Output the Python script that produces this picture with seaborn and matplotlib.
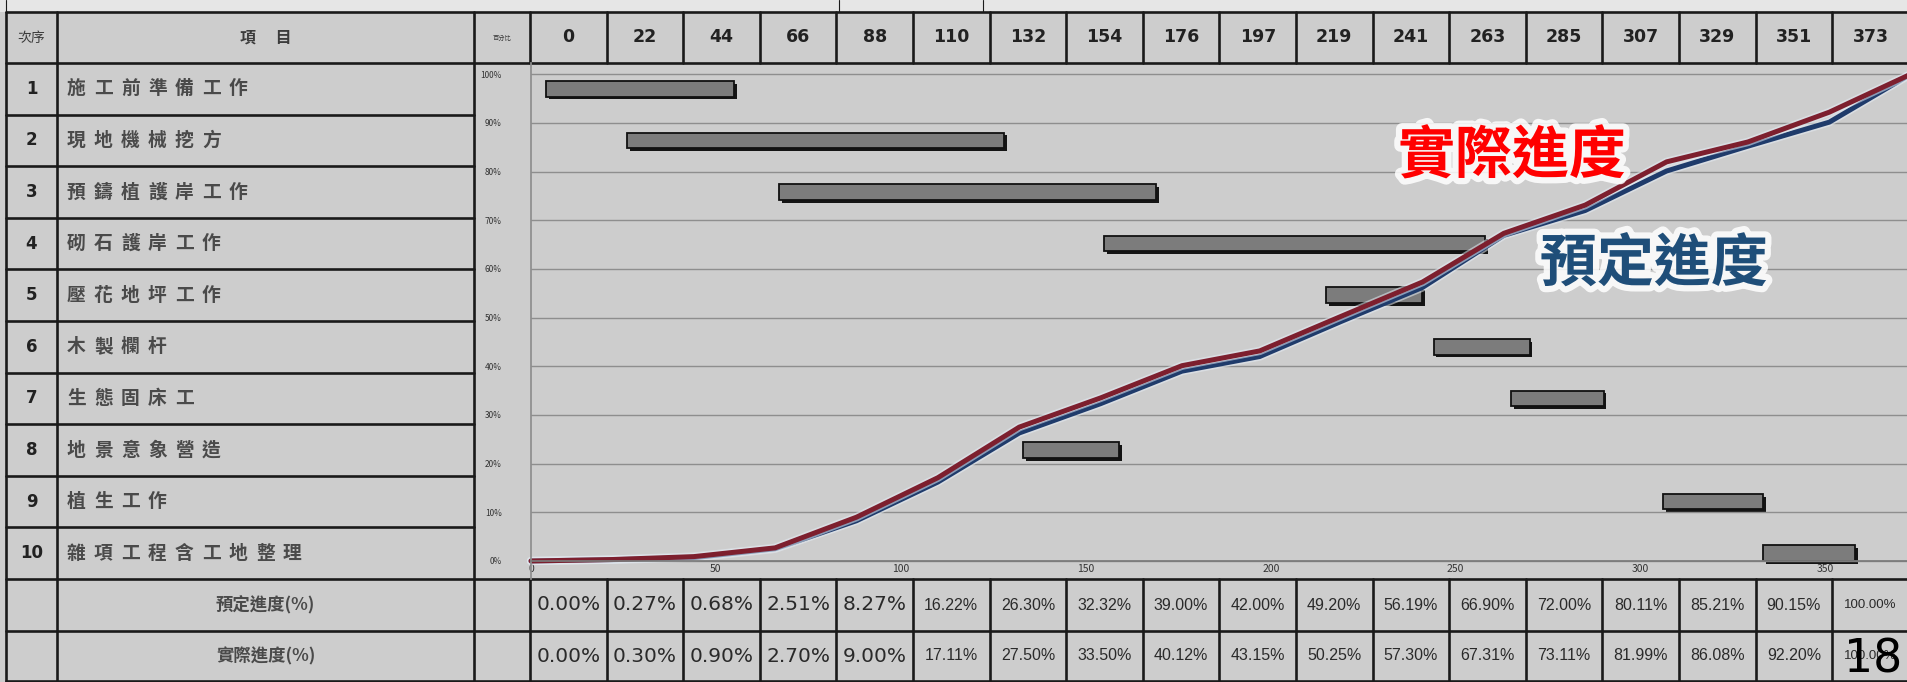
import matplotlib
matplotlib.use("Agg")
import matplotlib.pyplot as plt
import matplotlib.patheffects as pe
import seaborn as sns
import pandas as pd

# progress checkpoints (days) and cumulative progress (%)
days = [0, 22, 44, 66, 88, 110, 132, 154, 176, 197, 219, 241, 263, 285, 307, 329, 351, 373]
planned = [0.00, 0.27, 0.68, 2.51, 8.27, 16.22, 26.30, 32.32, 39.00, 42.00,
           49.20, 56.19, 66.90, 72.00, 80.11, 85.21, 90.15, 100.00]
actual = [0.00, 0.30, 0.90, 2.70, 9.00, 17.11, 27.50, 33.50, 40.12, 43.15,
          50.25, 57.30, 67.31, 73.11, 81.99, 86.08, 92.20, 100.00]

# work items and their schedule (days)
tasks = ["施工前準備工作", "現地機械挖方", "預鑄植護岸工作", "砌石護岸工作", "壓花地坪工作",
         "木製欄杆", "生態固床工", "地景意象營造", "植生工作", "雜項工程含工地整理"]
task_start = [4, 26, 67, 155, 215, 244, 265, 133, 306, 333]
task_end = [55, 128, 169, 258, 241, 270, 290, 159, 333, 358]

sns.set_theme(style="white")
plt.rcParams["font.family"] = ["Noto Sans CJK TC", "DejaVu Sans"]

BG = "#cdcdcd"
W, H = 1907, 682
fig = plt.figure(figsize=(W / 100, H / 100), dpi=100, facecolor=BG)

# ---- table frame (pixel coordinates) ----
tab = fig.add_axes([0, 0, 1, 1])
tab.set_xlim(0, W)
tab.set_ylim(H, 0)
tab.axis("off")
tab.patch.set_alpha(0)

x_left, x_id, x_item, x_pct = 6, 57, 474, 530
colw = 76.6
y_top, y_head, rowh = 12, 63, 51.6
y_rows = y_head + 10 * rowh
y_plan = 631
y_bot = 681
lc = "#1a1a1a"
lw = 1.9

tab.axhspan(0, y_top, color="#e6e6e6", lw=0)
for xx in [x_left, 839, 983]:
    tab.plot([xx, xx], [0, y_top], color=lc, lw=0.8)

for xx in [x_left, x_id, x_item]:
    tab.plot([xx, xx], [y_top, y_bot], color=lc, lw=lw)
col_edges = [x_pct + k * colw for k in range(len(days))]
for xx in col_edges:
    tab.plot([xx, xx], [y_top, y_head], color=lc, lw=lw)
    tab.plot([xx, xx], [y_rows, y_bot], color=lc, lw=lw)
for yy in [y_top, y_head, y_rows, y_plan, y_bot]:
    tab.plot([x_left, W], [yy, yy], color=lc, lw=lw)
for k in range(1, 10):
    yy = y_head + k * rowh
    tab.plot([x_left, x_item], [yy, yy], color=lc, lw=lw)

txt = "#3c3c3c"
ymid = (y_top + y_head) / 2
tab.text((x_left + x_id) / 2, ymid, "次序", fontsize=10, color=txt, ha="center", va="center")
tab.text((x_id + x_item) / 2, ymid, "項 　目", fontsize=11.5, fontweight="bold", color=txt,
         ha="center", va="center")
tab.text((x_item + x_pct) / 2, ymid, "百分比", fontsize=4.5, color=txt, ha="center", va="center")
for i, d in enumerate(days):
    tab.text(col_edges[i] + colw / 2, ymid, str(d), fontsize=12.5, fontweight="bold",
             family=["DejaVu Sans"], color="#222222", ha="center", va="center")

pitch = 27
for i, name in enumerate(tasks):
    yc = y_head + (i + 0.5) * rowh
    tab.text((x_left + x_id) / 2, yc, str(i + 1), fontsize=12, fontweight="bold",
             family=["DejaVu Sans"], color="#222222", ha="center", va="center")
    for j, ch in enumerate(name):
        tab.text(x_id + 10 + j * pitch, yc, ch, fontsize=13.5, fontweight="bold",
                 color="#4a4a4a", ha="left", va="center")

y_p = (y_rows + y_plan) / 2
y_a = (y_plan + y_bot) / 2
tab.text((x_id + x_item) / 2, y_p, "預定進度(%)", fontsize=12.5, fontweight="bold",
         color="#4a4a4a", ha="center", va="center")
tab.text((x_id + x_item) / 2, y_a, "實際進度(%)", fontsize=12.5, fontweight="bold",
         color="#4a4a4a", ha="center", va="center")
for i in range(len(days)):
    if i < 5:
        fs, fam = 14.5, ["DejaVu Sans"]
    elif i < 17:
        fs, fam = 11.5, ["Liberation Sans", "DejaVu Sans"]
    else:
        fs, fam = 9.5, ["Liberation Sans", "DejaVu Sans"]
    cx = col_edges[i] + colw / 2
    for yy, vals in [(y_p, planned), (y_a, actual)]:
        tab.text(cx, yy, f"{vals[i]:.2f}%", fontsize=fs, color="#2a2a2a", family=fam,
                 ha="center", va="center")

# ---- gantt bars + progress curves ----
x0 = 531
rect = [x0 / W, (H - y_rows) / H, (W - x0) / W, (y_rows - y_head) / H]
gax = fig.add_axes(rect)
gax.patch.set_alpha(0)
ax = fig.add_axes(rect, sharex=gax)
ax.patch.set_alpha(0)

ax.set_xlim(0, 372)
ax.set_ylim(-3.7, 102.3)
gax.set_ylim(9.5, -0.5)
gax.axis("off")

ax.set_yticks(range(0, 101, 10))
ax.set_yticklabels([f"{v}%" for v in range(0, 101, 10)])
ax.set_xticks(range(0, 351, 50))
ax.yaxis.grid(True, color="#8e8e8e", lw=1)
ax.xaxis.grid(False)
ax.tick_params(axis="y", labelsize=6, colors="#333333", pad=21, length=0)
ax.tick_params(axis="x", labelsize=7.5, colors="#333333", pad=1, length=3, direction="inout")
ax.spines["top"].set_visible(False)
ax.spines["right"].set_visible(False)
ax.spines["left"].set_color("#8e8e8e")
ax.spines["bottom"].set_color("#7a7a7a")
ax.spines["bottom"].set_position(("data", 0))
ax.set_axisbelow(True)

widths = [e - s for s, e in zip(task_start, task_end)]
bars = gax.barh(range(len(tasks)), widths, left=task_start, height=0.3,
                color="#7c7c7c", edgecolor="#111111", lw=1.3)
for b in bars:
    b.set_path_effects([pe.SimplePatchShadow(offset=(2, -2), shadow_rgbFace="black", alpha=0.9),
                        pe.Normal()])

df = pd.DataFrame({"day": days, "預定進度": planned, "實際進度": actual})
glow = [pe.Stroke(linewidth=6, foreground="#e4ecf4", alpha=0.55), pe.Normal()]
sns.lineplot(data=df, x="day", y="預定進度", color="#1f3b6b", lw=3.6, ax=ax)
sns.lineplot(data=df, x="day", y="實際進度", color="#7d1f2e", lw=3.6, ax=ax)
for ln in ax.get_lines():
    ln.set_path_effects(glow)
    ln.set_clip_on(False)
ax.set_xlabel("")
ax.set_ylabel("")

# ---- overlay labels ----
halo = [pe.withStroke(linewidth=9, foreground="white", alpha=0.85)]
fig.text(1512 / W, 1 - 156 / H, "實際進度", color="#ff0000", fontsize=41, fontweight="bold",
         ha="center", va="center", path_effects=halo)
fig.text(1654 / W, 1 - 264 / H, "預定進度", color="#1f4e79", fontsize=41, fontweight="bold",
         ha="center", va="center", path_effects=halo)
fig.text(1873 / W, 1 - 660 / H, "18", color="black", fontsize=33,
         family=["Liberation Sans Narrow", "DejaVu Sans"], ha="center", va="center")

fig.savefig("out.png", dpi=100, facecolor=BG)
